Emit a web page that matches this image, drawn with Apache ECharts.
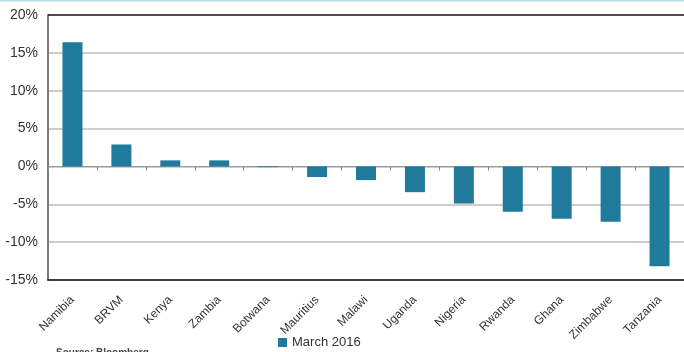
<!DOCTYPE html>
<html><head><meta charset="utf-8">
<script src="https://cdn.jsdelivr.net/npm/echarts@6/dist/echarts.min.js"></script>
<style>html,body{margin:0;padding:0;background:#fff}#c{width:684px;height:352px}</style>
</head><body><div id="c"></div>
<script>
const categories = ['Namibia','BRVM','Kenya','Zambia','Botwana','Mauritius','Malawi','Uganda','Nigeria','Rwanda','Ghana','Zimbabwe','Tanzania'];
const march2016 = [16.4, 2.9, 0.8, 0.8, -0.1, -1.4, -1.8, -3.4, -4.9, -6.0, -6.9, -7.3, -13.2];
const seriesName = 'March 2016';
const sourceText = 'Source: Bloomberg';

const chart = echarts.init(document.getElementById('c'));
chart.setOption({
  animation: false,
  grid: { left: 48, right: -5, top: 15, bottom: 72, containLabel: false },
  graphic: [
    { type: 'line', shape: { x1: 0, y1: 0.5, x2: 684, y2: 0.5 }, style: { stroke: '#b9dde6', lineWidth: 2 } },
    { type: 'text', left: 56, top: 348.5, style: { text: sourceText, fontSize: 10, fontWeight: 'bold', fill: '#444', fontFamily: 'Liberation Sans' } }
  ],
  legend: {
    bottom: -2, left: 273, itemWidth: 9, itemHeight: 9, itemGap: 4,
    icon: 'rect',
    textStyle: { fontSize: 13, color: '#333', fontFamily: 'Liberation Sans' },
    data: [seriesName]
  },
  xAxis: [
    { type: 'category', data: categories, position: 'top',
      axisLine: { onZero: true, lineStyle: { color: '#9a9a9a', width: 1 } },
      axisTick: { show: true, inside: true, length: 4, interval: 0, lineStyle: { color: '#888' } },
      axisLabel: { show: false, interval: 0 } },
    { type: 'category', data: categories, position: 'bottom',
      axisLine: { onZero: false, lineStyle: { color: '#111', width: 1.5 } },
      axisTick: { show: false },
      axisLabel: { rotate: 45, fontSize: 12, color: '#333', fontFamily: 'Liberation Sans', margin: 18, interval: 0 } }
  ],
  yAxis: {
    type: 'value', min: -15, max: 20, interval: 5,
    axisLine: { show: true, lineStyle: { color: '#7a7a7a', width: 2 } },
    axisTick: { show: false },
    splitLine: { lineStyle: { color: '#bdbdbd', width: 1.5 } },
    axisLabel: { formatter: '{value}%', fontSize: 14, color: '#333', fontFamily: 'Liberation Sans', margin: 10 }
  },
  series: [{
    name: seriesName, type: 'bar', xAxisIndex: 0, data: march2016, barWidth: 20,
    itemStyle: { color: '#1f7a9b' },
    markLine: { silent: true, symbol: 'none', label: { show: false },
      lineStyle: { color: '#222', type: 'solid', width: 1.5 },
      data: [{ yAxis: 20 }] }
  }]
});
</script></body></html>
